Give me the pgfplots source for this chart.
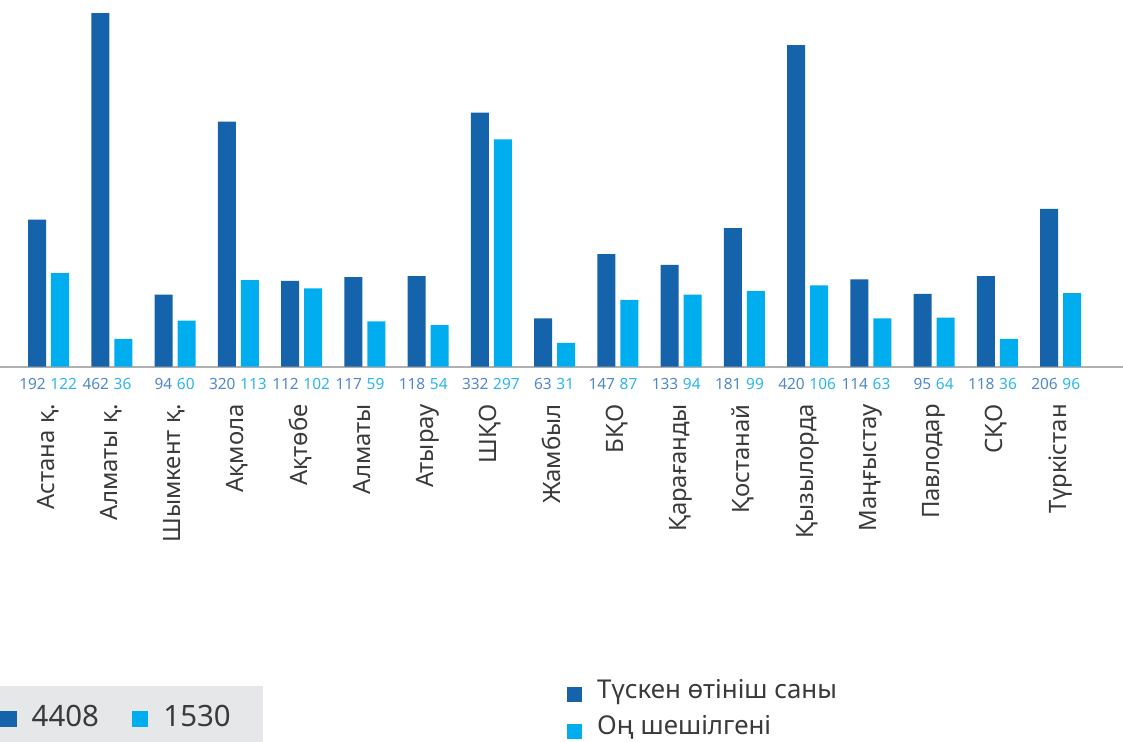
\documentclass[border=0pt]{standalone}
\usepackage{fontspec}
\setmainfont{Noto Sans}
\usepackage{pgfplots}
\usepackage{pgfplotstable}
\pgfplotsset{compat=1.18}
\definecolor{dk}{HTML}{1463AB}
\definecolor{lt}{HTML}{00AEEF}
\definecolor{dklab}{HTML}{5288CB}
\definecolor{ltlab}{HTML}{2DB6EE}
\definecolor{txt}{HTML}{3A3A3A}
\definecolor{boxg}{HTML}{E6E7E9}
\definecolor{axg}{HTML}{B0B0B0}
\pgfplotsset{sq/.style={legend image code/.code={\fill[##1] (0bp,-10.5bp) rectangle (15bp,4.5bp);}}}
\pgfplotstableread[col sep=comma]{
name,a,b
Астана қ.,192,122
Алматы қ.,462,36
Шымкент қ.,94,60
Ақмола,320,113
Ақтөбе,112,102
Алматы,117,59
Атырау,118,54
ШҚО,332,297
Жамбыл,63,31
БҚО,147,87
Қарағанды,133,94
Қостанай,181,99
Қызылорда,420,106
Маңғыстау,114,63
Павлодар,95,64
СҚО,118,36
Түркістан,206,96
}\data
\begin{document}
\begin{tikzpicture}
\fill[boxg] (0,0) rectangle (263bp,56bp);
\begin{axis}[
  at={(0,0)}, anchor=south west,
  width=1123bp, height=742bp, scale only axis,
  xmin=-0.7668, xmax=16.988, ymin=-490.8, ymax=479.1,
  axis line style={draw=none},
  xtick=\empty, ytick=\empty,
  extra y ticks={0}, extra y tick labels={},
  extra y tick style={grid=major, major grid style={draw=axg, line width=2bp}, major tick length=0pt},
  clip=false,
  legend cell align=left,
  legend style={at={(rel axis cs:0.5049,0.08558)}, anchor=north west, draw=none, fill=none,
    inner sep=0pt, row sep=10.5bp, column sep=15bp, font=\fontsize{26}{26}\selectfont,
    nodes={inner sep=0pt, text height=19.5bp, text depth=6.5bp, text=txt}},
]
\addplot[ybar, bar width=0.2846, bar shift=-0.1818, fill=dk, draw=none, sq] table[x expr=\coordindex, y=a]{\data};
\addlegendentry{Түскен өтініш саны}
\addplot[ybar, bar width=0.2846, bar shift=0.1818, fill=lt, draw=none, sq] table[x expr=\coordindex, y=b]{\data};
\addlegendentry{Оң шешілгені}
\addplot[forget plot, draw=none, nodes near coords, point meta=explicit symbolic,
  every node near coord/.append style={anchor=east, inner sep=0pt, font=\fontsize{15.5}{15.5}\selectfont, text=dklab}]
  table[x expr=\coordindex-0.04, y expr=-22.6, meta=a]{\data};
\addplot[forget plot, draw=none, nodes near coords, point meta=explicit symbolic,
  every node near coord/.append style={anchor=west, inner sep=0pt, font=\fontsize{15.5}{15.5}\selectfont, text=ltlab}]
  table[x expr=\coordindex+0.028, y expr=-22.6, meta=b]{\data};
\addplot[forget plot, draw=none, nodes near coords, point meta=explicit symbolic,
  every node near coord/.append style={rotate=90, anchor=base east, inner sep=0pt, font=\fontsize{24}{24}\selectfont, text=txt}]
  table[x expr=\coordindex+0.087, y expr=-49, meta=name]{\data};
\end{axis}
\begin{axis}[
  at={(0,0)}, anchor=south west,
  width=1123bp, height=742bp, scale only axis, hide axis,
  xmin=0, xmax=1, ymin=0, ymax=1,
  legend columns=2, legend cell align=left,
  legend image code/.code={\fill[#1] (0bp,-7.8bp) rectangle (16.5bp,8.7bp);},
  legend style={at={(rel axis cs:0,0.03039)}, anchor=west, draw=none, fill=none, inner sep=0pt,
    column sep=15bp, /tikz/every even column/.append style={column sep=33bp},
    font=\fontsize{29.5}{29.5}\selectfont,
    nodes={inner sep=0pt, text height=22bp, text depth=7.5bp, text=txt}},
]
\addlegendimage{fill=dk, draw=none}
\addlegendentry{4408}
\addlegendimage{fill=lt, draw=none}
\addlegendentry{1530}
\end{axis}
\pgfresetboundingbox
\useasboundingbox (0,0) rectangle (1123bp,742bp);
\end{tikzpicture}
\end{document}
